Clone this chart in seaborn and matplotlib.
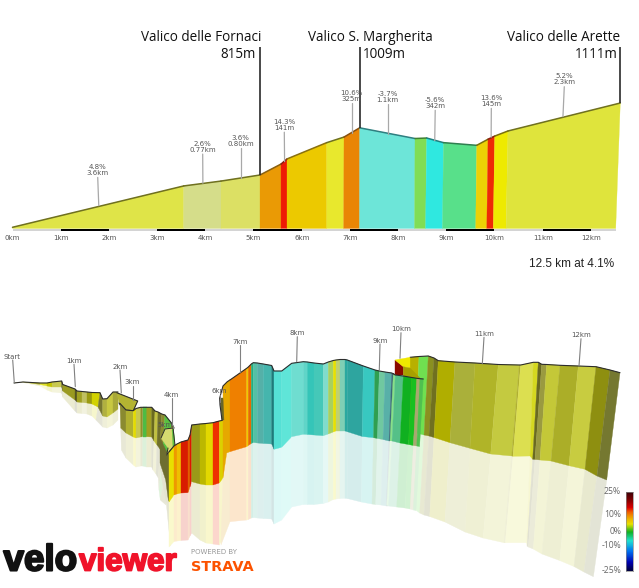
import numpy as np
import matplotlib
matplotlib.use("Agg")
import matplotlib.pyplot as plt
import matplotlib.patheffects as pe
from matplotlib.colors import LinearSegmentedColormap, to_rgb
import seaborn as sns

# ---- climb profile: distance in km, elevation in metres ----
top_km = [0, 3.552, 4.326, 5.135, 5.571, 5.695, 6.519, 6.878, 7.203, 8.351, 8.593,
          8.942, 9.631, 9.865, 10.004, 10.28, 12.61]
base_km = [0, 3.552, 4.326, 5.135, 5.571, 5.695, 6.52, 6.87, 7.20, 8.34, 8.57,
           8.92, 9.61, 9.84, 9.975, 10.24, 12.515]
top_m = [600, 770, 790, 815, 860, 881, 948, 971, 1009, 965, 967, 948, 937, 962, 975, 996, 1111]
seg_colors = ['#dfe448', '#d5dd8a', '#dce064', '#ea9a05', '#ee1a05', '#ecc900', '#e8e82d', '#e98505',
              '#6de5d8', '#80dd55', '#2fe8e0', '#58e08a', '#ecd105', '#ee2a05', '#eeea00', '#dfe43c']
line_colors = ['#6f7020', '#6f7020', '#6f7020', '#8a6010', '#8a2010', '#8a7010', '#6f7020', '#8a5010',
               '#2f7f80', '#3f8030', '#1f8080', '#2f7f50', '#7a7010', '#8a2010', '#7a7010', '#6f7020']
km_ticks = list(range(13))
km_labels = [f"{k}km" for k in km_ticks]
km_bars = [(1, 2), (3, 4), (5, 6), (7, 8), (9, 10), (11, 12)]

call_km = [1.768, 3.946, 4.734, 5.639, 7.037, 7.784, 8.77, 9.934, 11.448]
call_end_km = [1.79, 3.95, 4.734, 5.645, 7.037, 7.784, 8.76, 9.93, 11.42]
call_hi_m = [805, 901, 925, 991, 1110, 1107, 1081, 1089, 1178]
call_lo_m = [689, 781, 804, 870, 986, 984, 956, 970, 1055]
call_line1 = ['4.8%', '2.6%', '3.6%', '14.3%', '10.6%', '-3.7%', '-5.6%', '13.6%', '5.2%']
call_line2 = ['3.6km', '0.77km', '0.80km', '141m', '325m', '1.1km', '342m', '145m', '2.3km']

pass_km = [5.135, 7.203, 12.61]
pass_m = [815, 1009, 1111]
pass_names = ['Valico delle Fornaci', 'Valico S. Margherita', 'Valico delle Arette']
pass_name_km = [5.17, 8.724, 12.604]
pass_elev_km = [5.05, 7.278, 12.56]
pass_elev_ha = ['right', 'left', 'right']
pass_elev = ['815m', '1009m', '1111m']

# ---- perspective view, projected wall strips: top edge, foot and reflection edge ----
a_tx = [14, 23, 40, 47, 52, 61.7, 62.7, 75, 77, 82, 87, 92, 100, 102.7, 107, 113, 118]
a_ty = [383, 382, 383, 383, 382, 381, 384.5, 389, 391, 391.5, 392, 392.5, 392.7, 399, 398.7, 392, 392]
a_mx = [14, 23, 40, 47, 52, 61.7, 62.7, 75, 77, 82, 87, 92, 98, 102.7, 107, 113, 118]
a_my = [383, 382, 384.5, 386, 387, 387, 391, 400, 402, 402.5, 403, 404, 407, 416, 417, 413, 409]
a_by = [383, 382.5, 386, 390, 392, 393, 397, 411, 413, 413.5, 414, 416, 420, 427, 428, 425, 420]
a_colors = ['#c0c040', '#b4b622', '#dfe024', '#c4c400', '#c8c850', '#55551a', '#9a9a20', '#555520',
            '#a0a020', '#c0c060', '#9a9a10', '#d2d200', '#777730', '#b0b040', '#c8c840', '#a8a838']

hairpin_x = [116.7, 137.7, 133.3, 123.3, 119]
hairpin_y = [392.7, 401, 410.7, 410, 403]

b_tx = [120, 126, 133.3, 136, 140.7, 142.7, 146.7, 151.7, 155, 158, 161.7, 165, 171.7, 174]
b_ty = [403.5, 410, 410.7, 408.5, 407.3, 407.3, 407.3, 407.3, 411, 412, 414, 415, 423.3, 428]
b_mx = [120.7, 126, 133.3, 136, 140.7, 142.7, 146.7, 151.7, 154, 157, 160, 162, 166, 170]
b_my = [428, 433, 437, 438, 437, 436.7, 436.7, 437, 441, 445, 449, 460, 470, 476]
b_by = [450, 458, 465, 467, 466, 466, 467, 467, 470, 474, 478, 490, 500, 505]
b_colors = ['#8a8a30', '#b0b030', '#e4dc00', '#c8c850', '#90902a', '#4ebb44', '#a0a020', '#6a6a20',
            '#c0c040', '#70702a', '#8a8a30', '#58c040', '#888830']

shade_x = [160, 166.7, 170, 170, 168.3, 165.7, 160]
shade_y = [438, 451.7, 456.7, 503, 500, 480, 463]
shade_pale_x = [160, 165.7, 168.3, 170, 170.5, 166, 162]
shade_pale_y = [463, 480, 500, 503, 546, 500, 480]
panel_x = [161, 165, 173, 175, 169, 166.7, 168]
panel_y = [438, 429, 428, 445, 452, 455, 448]
panel_edge_x = [172, 173.5, 175, 173]
panel_edge_y = [430, 428, 445, 447]

c_tx = [169, 174, 177, 181, 188, 190, 191.7, 200, 206, 213, 219.3, 224]
c_ty = [452, 446, 444, 442, 440, 435, 425, 424, 423.5, 422.7, 421, 420]
c_mx = [169, 174, 177, 181, 188, 190, 191.7, 200, 206, 213, 219.3, 223]
c_my = [502, 495, 494, 493, 492.7, 487, 481.7, 484, 485, 485, 483, 478]
c_by = [547, 541.5, 541, 540.5, 540, 536, 533, 540, 543, 544, 545, 540]
c_colors = ['#e8e000', '#ee9a00', '#eec000', '#d81c00', '#e06000', '#dd1500', '#9a9a18', '#bbb800',
            '#e2d800', '#ee3000', '#dcd000']

fold_x = [219.7, 223, 224, 222]
fold_y = [398, 398, 420, 420]
ramp_x = [223, 227.3, 230, 230, 226.7, 223, 223]
ramp_y = [386, 381.7, 380, 451.7, 453, 478, 420]
ramp_pale_x = [223, 226.7, 230, 230, 221]
ramp_pale_y = [478, 453, 451.7, 521.7, 545]
ridge_x = [222, 220, 219.7, 223, 227.3, 230]
ridge_y = [420, 405, 398, 386, 381.7, 380]

h_tx = [230, 246.7, 248.3, 251.3, 253.3, 257.3, 263.3, 271.7, 274, 281.7, 291.7, 303.3, 307.3, 314, 323.3,
        328.3, 333.3, 336, 340, 345, 347.3, 363.3, 375, 379.3, 385, 391.7, 394]
h_ty = [380, 368.3, 367, 364, 362.7, 363, 364, 365.5, 371, 371, 363.3, 361.7, 362, 363, 364,
        362, 360.5, 360, 359.5, 359.5, 360, 366, 370, 371, 372, 373, 374]
h_mx = [230, 246.7, 248.3, 251.3, 253.3, 257.3, 263.3, 271.7, 274, 281.7, 291.7, 303.3, 307.3, 314, 323.3,
        328.3, 333.3, 336, 340, 345, 347.3, 362.3, 373.5, 377.5, 383, 389, 391]
h_my = [451.7, 446.7, 445.5, 443.5, 442.5, 443, 443.5, 444, 449.3, 447.3, 436.7, 434.3, 434.5, 435, 435.7,
        434, 432, 431, 431, 431, 431.7, 436.5, 437.7, 438.5, 439.5, 441, 441]
h_by = [521.7, 520, 519.5, 518, 517.5, 518, 518.5, 519, 524, 520, 507, 504.5, 504.5, 504.5, 503.5,
        502, 499.5, 499, 498.5, 498.3, 498.5, 502, 504, 504.5, 505, 506, 506]
h_colors = ['#ef8000', '#eec800', '#e86a00', '#22b080', '#55c0a5', '#55b0a8', '#45b5ad', '#1e7a7a',
            '#55e0d5', '#5fe5d8', '#6fddd0', '#60d5c8', '#35c5b8', '#45c8b8', '#80dccc', '#a8d060',
            '#e8e000', '#c0d070', '#7fcfb5', '#2aa8a0', '#2ea59f', '#38c8c0', '#2f9f50', '#70c8a0',
            '#58b0a8', '#3a6a78']

e_tx = [410, 419, 428.3, 434, 438.3, 455, 475, 498.3, 519.3, 520.7, 533.3, 538.3, 541.7, 546.7, 560, 578.3,
        596, 610, 620]
e_ty = [357.3, 356.5, 356, 358, 360.7, 362, 363, 364.5, 365, 365, 362.3, 362.3, 364.3, 364.5, 365.3, 366,
        366.7, 370, 372.7]
e_mx = [408, 416, 424, 429, 434, 450, 470, 490.7, 511.7, 513, 530, 532.7, 535, 540, 551, 569, 585, 597, 606.7]
e_my = [440, 433, 435, 436, 437.5, 442.7, 448.3, 454, 456, 456.3, 456, 459.3, 459.5, 460, 461, 465.7,
        469.3, 476, 480]
e_by = [505, 508, 513, 515, 516.5, 522, 532, 538, 542.7, 542.7, 542.7, 546, 547, 549, 554, 560.5, 566.5,
        572, 576.7]
e_colors = ['#b8b000', '#70e050', '#8a9020', '#707020', '#b0ae00', '#aab03a', '#b0b428', '#c4ca40', '#b0b030',
            '#dcdf50', '#d5d820', '#6a6a20', '#9a9a40', '#c4c838', '#abae28', '#c8cc40', '#8e8f10', '#757830']

notch_red_x = [395, 403.3, 403.3, 395]
notch_red_y = [360, 366.7, 375, 375]
notch_yellow_x = [395, 410, 410, 403.3]
notch_yellow_y = [360, 357.3, 368, 366.7]
notch_olive_x = [403.3, 410, 420, 403.3]
notch_olive_y = [366.7, 368, 378, 376]

f_tx = [393.3, 395.3, 403.3, 411.7, 416.7, 420, 423.3]
f_ty = [374, 375, 376, 377.5, 378.3, 378.7, 379]
f_mx = [390, 392, 400, 408.4, 413.4, 416.7, 419.6]
f_my = [440.7, 441, 443, 444.5, 445.5, 446, 446.5]
f_by = [505.3, 506, 507, 508, 509, 510, 510.5]
f_colors = ['#88e088', '#55c088', '#10b020', '#18c020', '#a8a870', '#50c050']

marker_names = ['Start', '1km', '2km', '3km', '4km', '5km', '6km', '7km', '8km', '9km', '10km', '11km', '12km']
marker_tx = [12.3, 74, 120, 132.3, 171.3, 165, 219, 240, 296.7, 380, 401, 484, 581]
marker_ty = [356.7, 361, 366.7, 382.3, 395, 425, 391, 341.7, 333.3, 340.7, 329.3, 333.7, 335]
marker_x0 = [12.7, 74, 120, 132.7, 172, 173, 220, 240.3, 297.3, 380, 401, 484, 581]
marker_y0 = [360, 364.3, 370, 385.7, 398, 426, 395, 345, 336.7, 344, 332.7, 337.3, 338.7]
marker_x1 = [14.3, 75.3, 121.3, 132.7, 172, 173, 220, 240.3, 296.7, 379.3, 400, 482.3, 579]
marker_y1 = [383, 386.7, 393, 400, 425, 428, 401.7, 371.7, 361.7, 370, 358.3, 364, 366]

scale_labels = ['25%', '10%', '0%', '-10%', '-25%']
scale_label_y = [491, 514.3, 531, 546, 570.7]
scale_stops = [0.0, 0.11, 0.2, 0.26, 0.34, 0.41, 0.51, 0.62, 0.76, 0.9, 1.0]
scale_colors = ['#3a0008', '#8a0000', '#e00000', '#f06000', '#eeb000', '#e8e000', '#10b020', '#20e0d0',
                '#0070f0', '#0000b0', '#000040']

sns.set_theme(style="white")
plt.rcParams['font.family'] = ['Open Sans', 'DejaVu Sans']
W, H = 639, 588
fig = plt.figure(figsize=(W / 100, H / 100), dpi=100, facecolor='white')

# ---- profile axes ----
ax = fig.add_axes([12.5 / W, 1 - 228.5 / H, (620.5 - 12.5) / W, 128.0 / H])
ax.set_xlim(0, 608 / 48.2)
ax.set_ylim(595, 595 + 128.0 / 0.2432)
ax.patch.set_alpha(0)
sns.despine(ax=ax, left=True, bottom=True, top=True, right=True)

for i, col in enumerate(seg_colors):
    ax.fill([base_km[i], top_km[i], top_km[i + 1], base_km[i + 1]],
            [595, top_m[i], top_m[i + 1], 595], color=col, ec=col, lw=0.2, clip_on=False)
for i, col in enumerate(line_colors):
    sns.lineplot(x=top_km[i:i + 2], y=top_m[i:i + 2], color=col, lw=1.1, ax=ax, sort=False,
                 errorbar=None, clip_on=False)
ax.fill_between([0, base_km[-1]], 586, 595, color='#d4d4d4', lw=0, clip_on=False)
for a, b in km_bars:
    ax.fill_between([a, b], 586, 595, color='black', lw=0, clip_on=False)

ax.set_xticks(km_ticks)
ax.set_xticklabels(km_labels, fontsize=5, color='#555555', family='DejaVu Sans')
ax.set_yticks([])
ax.tick_params(axis='x', length=0, pad=4.4)
ax.set_xlabel('')
ax.set_ylabel('')

for i in range(len(call_km)):
    ax.plot([call_km[i], call_end_km[i]], [call_hi_m[i], call_lo_m[i]], color='#a8a8a8', lw=0.9, clip_on=False)
    ax.text(call_km[i], call_hi_m[i] + 5, f"{call_line1[i]}\n{call_line2[i]}", ha='center', va='bottom',
            fontsize=5, color='#555555', family='DejaVu Sans', linespacing=1.0)

for i in range(3):
    ax.plot([pass_km[i]] * 2, [pass_m[i], 1342], color='#2a2a2a', lw=1.2, clip_on=False,
            solid_capstyle='butt')
    ax.text(pass_name_km[i], 1379, pass_names[i], ha='right', va='center', fontsize=9.75, color='#111111')
    ax.text(pass_elev_km[i], 1311, pass_elev[i], ha=pass_elev_ha[i], va='center', fontsize=9.75, color='#111111')
ax.text(11.59, 448, '12.5 km at 4.1%', ha='center', va='center', fontsize=8.5, color='#222222',
        family='Liberation Sans')

# ---- perspective view axes, in projected coordinates ----
view = fig.add_axes([0, 0, 1, 1])
view.set_xlim(0, W)
view.set_ylim(H, 0)
view.axis('off')
view.patch.set_alpha(0)

layer = [10]


def next_layer():
    layer[0] += 1
    return layer[0]


def pale(color, amount=0.2):
    rgb = np.array(to_rgb(color))
    return tuple(rgb * amount + (1 - amount))


def blob(xs, ys, color):
    view.fill(xs, ys, color=color, ec=color, lw=0.25, zorder=next_layer())


def wall(tx, ty, mx, my, by, colors):
    tx, mx = np.array(tx, float), np.array(mx, float)
    bx = 2 * mx - tx
    for i, col in enumerate(colors):
        z = next_layer()
        view.fill([mx[i], mx[i + 1], bx[i + 1], bx[i]], [my[i], my[i + 1], by[i + 1], by[i]],
                  color=pale(col), ec=pale(col), lw=0.25, zorder=z)
        view.fill([tx[i], tx[i + 1], mx[i + 1], mx[i]], [ty[i], ty[i + 1], my[i + 1], my[i]],
                  color=col, ec=col, lw=0.25, zorder=z)
    sns.lineplot(x=list(tx), y=list(ty), color='#2c2c2c', lw=0.8, ax=view, sort=False, errorbar=None,
                 zorder=next_layer())


wall(a_tx, a_ty, a_mx, a_my, a_by, a_colors)
blob(hairpin_x, hairpin_y, '#b4b432')
sns.lineplot(x=hairpin_x, y=hairpin_y, color='#2c2c2c', lw=0.8, ax=view, sort=False,
             errorbar=None, zorder=next_layer())
wall(b_tx, b_ty, b_mx, b_my, b_by, b_colors)
blob(shade_pale_x, shade_pale_y, '#e4e4d2')
blob(shade_x, shade_y, '#6e6e30')
blob(panel_x, panel_y, '#d6da70')
blob(panel_edge_x, panel_edge_y, '#60c040')
sns.lineplot(x=panel_x + panel_x[:1], y=panel_y + panel_y[:1], color='#2c2c2c', lw=0.7, ax=view, sort=False,
             errorbar=None, zorder=next_layer())
wall(c_tx, c_ty, c_mx, c_my, c_by, c_colors)
blob(ramp_pale_x, ramp_pale_y, '#f8ecd0')
blob(ramp_x, ramp_y, '#e6a800')
blob(fold_x, fold_y, '#66662a')
sns.lineplot(x=ridge_x, y=ridge_y, color='#2c2c2c', lw=0.8, ax=view, sort=False, errorbar=None,
             zorder=next_layer())
wall(e_tx, e_ty, e_mx, e_my, e_by, e_colors)
blob(notch_red_x, notch_red_y, '#8a0a00')
blob(notch_yellow_x, notch_yellow_y, '#f0e800')
blob(notch_olive_x, notch_olive_y, '#a8a000')
wall(h_tx, h_ty, h_mx, h_my, h_by, h_colors)
wall(f_tx, f_ty, f_mx, f_my, f_by, f_colors)

for i, name in enumerate(marker_names):
    view.plot([marker_x0[i], marker_x1[i]], [marker_y0[i], marker_y1[i]], color='#808080', lw=0.8,
              zorder=next_layer())
    view.text(marker_tx[i], marker_ty[i], name, ha='center', va='center', fontsize=5, color='#555555',
              family='DejaVu Sans', zorder=next_layer())

for label, y in zip(scale_labels, scale_label_y):
    view.text(621, y, label, ha='right', va='center', fontsize=6.2, color='#666666', zorder=next_layer())

# ---- wordmarks ----
stroke_black = [pe.withStroke(linewidth=1.5, foreground='#111111')]
stroke_red = [pe.withStroke(linewidth=1.3, foreground='#f0132a')]
view.text(3.5, 570.5, 'velo', ha='left', va='baseline', fontsize=26.5, fontweight='bold', color='#111111',
          family='Liberation Sans', path_effects=stroke_black, zorder=next_layer())
view.text(79, 570.5, 'viewer', ha='left', va='baseline', fontsize=22.6, fontweight='bold', color='#f0132a',
          family='Liberation Sans', path_effects=stroke_red, zorder=next_layer())
view.text(190.7, 552.3, 'POWERED BY', ha='left', va='center', fontsize=5, color='#999999',
          family='DejaVu Sans', zorder=next_layer())
view.text(190.7, 571, 'STRAVA', ha='left', va='baseline', fontsize=10.4, fontweight='bold', color='#fc5200',
          family='DejaVu Sans', zorder=next_layer())

# ---- gradient scale ----
cax = fig.add_axes([625.7 / W, 1 - 570.7 / H, (633.3 - 625.7) / W, (570.7 - 491.7) / H])
grade_cmap = LinearSegmentedColormap.from_list('grade', list(zip(scale_stops, scale_colors)), N=256)
grade = np.linspace(0, 1, 160).reshape(-1, 1)
sns.heatmap(grade, ax=cax, cmap=grade_cmap, vmin=0, vmax=1, cbar=False, xticklabels=False, yticklabels=False)
for s in cax.spines.values():
    s.set_visible(True)
    s.set_color('#8a8a8a')
    s.set_linewidth(0.5)

fig.savefig('out.png', dpi=100, facecolor='white')
